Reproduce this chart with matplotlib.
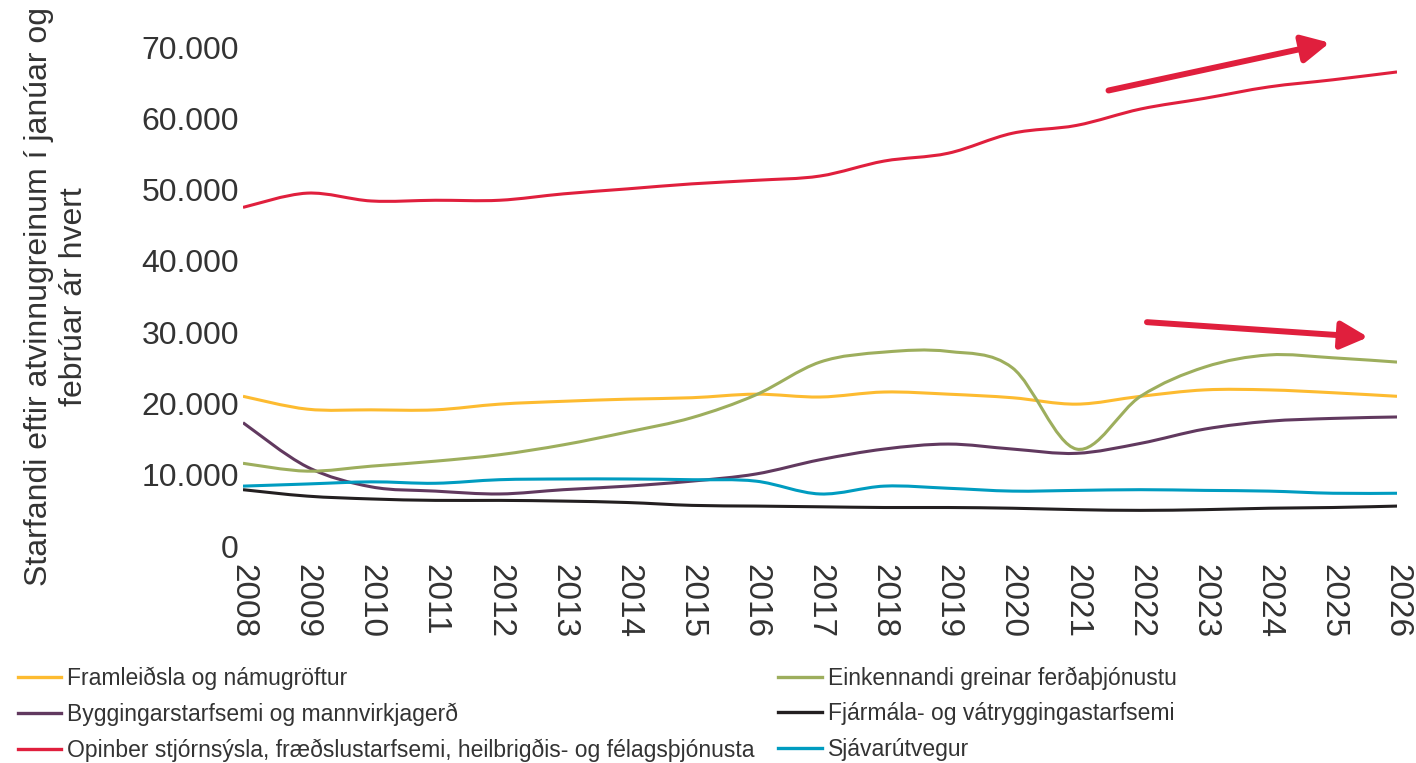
import matplotlib
matplotlib.use("Agg")
import matplotlib.pyplot as plt
import numpy as np
from matplotlib.path import Path
from matplotlib.patches import PathPatch
from matplotlib.lines import Line2D
from matplotlib.ticker import FuncFormatter

plt.rcParams["font.family"] = ["Liberation Sans", "DejaVu Sans"]

years = list(range(2008, 2027))

framleidsla = [21000, 19200, 19100, 19100, 19900, 20300, 20600, 20800, 21300, 20900,
               21600, 21300, 20800, 19900, 21000, 21900, 21900, 21500, 21000]
ferdathjonusta = [11600, 10500, 11200, 11900, 12800, 14200, 16000, 18000, 21200, 25800,
                  27200, 27300, 25000, 13600, 21000, 25100, 26800, 26400, 25800]
byggingar = [17300, 11100, 8300, 7700, 7300, 7900, 8400, 9100, 10100, 12100,
             13600, 14300, 13600, 13000, 14400, 16400, 17500, 17900, 18100]
fjarmal = [7900, 7000, 6600, 6400, 6400, 6300, 6100, 5700, 5600, 5500,
           5400, 5400, 5300, 5100, 5000, 5100, 5300, 5400, 5600]
opinber = [47500, 49500, 48400, 48500, 48500, 49400, 50100, 50800, 51300, 51900,
           54000, 55100, 57900, 59000, 61300, 62800, 64400, 65400, 66500]
sjavarutvegur = [8400, 8700, 9000, 8800, 9300, 9400, 9400, 9300, 9100, 7300,
                 8400, 8100, 7700, 7800, 7900, 7800, 7700, 7400, 7400]

series = [
    ("Framleiðsla og námugröftur", framleidsla, "#FDBB30"),
    ("Byggingarstarfsemi og mannvirkjagerð", byggingar, "#61395F"),
    ("Opinber stjórnsýsla, fræðslustarfsemi, heilbrigðis- og félagsþjónusta", opinber, "#E01F3D"),
    ("Einkennandi greinar ferðaþjónustu", ferdathjonusta, "#9DAE5D"),
    ("Fjármála- og vátryggingastarfsemi", fjarmal, "#231F20"),
    ("Sjávarútvegur", sjavarutvegur, "#009CC0"),
]

# trend arrows (start, end) in data coordinates
arrow_up = ((2021.5, 63900), (2024.95, 70600))
arrow_down = ((2022.1, 31400), (2025.55, 29300))


def smooth_path(xs, ys):
    # Excel-style smoothed line: cubic Bezier through each point
    pts = np.column_stack([xs, ys]).astype(float)
    n = len(pts)
    verts = [pts[0]]
    codes = [Path.MOVETO]
    for i in range(n - 1):
        p0 = pts[max(i - 1, 0)]
        p1 = pts[i]
        p2 = pts[i + 1]
        p3 = pts[min(i + 2, n - 1)]
        c1 = p1 + (p2 - p0) / 6.0
        c2 = p2 - (p3 - p1) / 6.0
        verts += [c1, c2, p2]
        codes += [Path.CURVE4] * 3
    return Path(verts, codes)


fig = plt.figure(figsize=(14.16, 7.63), dpi=100)
ax = fig.add_axes([0.1716, 0.2844, 0.815, 0.654])

handles = []
for label, values, color in series:
    ax.add_patch(PathPatch(smooth_path(years, values), fill=False,
                           edgecolor=color, lw=2.2, capstyle="butt"))
    handles.append(Line2D([], [], color=color, lw=2.4, label=label))

for (x0, y0), (x1, y1) in (arrow_up, arrow_down):
    ax.annotate("", xy=(x1, y1), xytext=(x0, y0), annotation_clip=False,
                arrowprops=dict(arrowstyle="-|>,head_length=0.75,head_width=0.38",
                                color="#E01F3D", lw=4.3, mutation_scale=22,
                                shrinkA=0, shrinkB=0))

ax.set_xlim(2008, 2026)
ax.set_ylim(0, 70000)
ax.set_xticks(years)
ax.set_xticklabels([str(y) for y in years], rotation=-90)
ax.set_yticks(range(0, 70001, 10000))
ax.yaxis.set_major_formatter(FuncFormatter(lambda v, p: f"{int(v):,}".replace(",", ".")))
ax.tick_params(axis="both", length=0, colors="#333333")
ax.tick_params(axis="y", labelsize=23, pad=3)
ax.tick_params(axis="x", labelsize=24, pad=13)
for s in ax.spines.values():
    s.set_visible(False)

ax.set_ylabel("Starfandi eftir atvinnugreinum í janúar og\nfebrúar ár hvert",
              fontsize=23, color="#333333", linespacing=1.22)
ax.yaxis.set_label_coords(-0.1335, 0.5)

fig.legend(handles=handles, ncol=2, loc="upper left", bbox_to_anchor=(0.006, 0.1385),
           frameon=False, fontsize=16.5, handlelength=1.88, handletextpad=0.27,
           labelspacing=0.55, columnspacing=1.05, labelcolor="#333333",
           borderaxespad=0.0)

fig.savefig("out.png", dpi=100)
